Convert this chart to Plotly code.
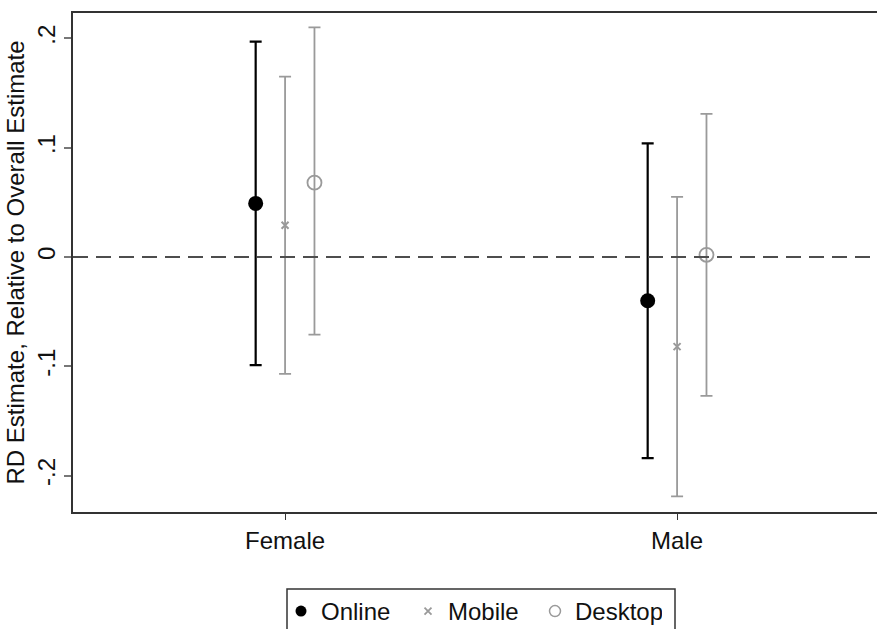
import plotly.graph_objects as go

categories = ["Female", "Male"]
series = ["Online", "Mobile", "Desktop"]

online_est = [0.049, -0.040]
online_lo = [-0.099, -0.184]
online_hi = [0.197, 0.104]

mobile_est = [0.029, -0.082]
mobile_lo = [-0.107, -0.219]
mobile_hi = [0.165, 0.055]

desktop_est = [0.068, 0.002]
desktop_lo = [-0.071, -0.127]
desktop_hi = [0.210, 0.131]

ytick_vals = [-0.2, -0.1, 0, 0.1, 0.2]
ytick_text = ["-.2", "-.1", "0", ".1", ".2"]

FONT = "Arial, Liberation Sans, sans-serif"
GRAY = "#9a9a9a"
FS = 24

data = [
    (online_est, online_lo, online_hi, -0.075, "black", dict(symbol="circle", size=15, color="black"), 2.2),
    (mobile_est, mobile_lo, mobile_hi, 0.0, GRAY, dict(symbol="x-thin", size=7, color=GRAY, line=dict(color=GRAY, width=2)), 1.8),
    (desktop_est, desktop_lo, desktop_hi, 0.075, GRAY, dict(symbol="circle-open", size=14, color=GRAY, line=dict(color=GRAY, width=1.8)), 1.8),
]

fig = go.Figure()
xpos = list(range(1, len(categories) + 1))
for name, (est, lo, hi, off, col, mk, lw) in zip(series, data):
    fig.add_trace(go.Scatter(
        x=[p + off for p in xpos], y=est, mode="markers", marker=mk,
        error_y=dict(type="data", symmetric=False,
                     array=[h - e for h, e in zip(hi, est)],
                     arrayminus=[e - l for e, l in zip(est, lo)],
                     color=col, thickness=lw, width=6),
        showlegend=False, name=name, hoverinfo="skip"))

# legend-only traces (smaller symbols as in reference)
leg_markers = [
    dict(symbol="circle", size=11, color="black"),
    dict(symbol="x-thin", size=7, color=GRAY, line=dict(color=GRAY, width=1.8)),
    dict(symbol="circle-open", size=11, color=GRAY, line=dict(color=GRAY, width=1.5)),
]
for name, mk in zip(series, leg_markers):
    fig.add_trace(go.Scatter(x=[None], y=[None], mode="markers", marker=mk, name=name))

W, H = 877, 629
L, R, T, B = 73, 0, 13, 117
pw, ph = W - L - R, H - T - B

def px_x(px):
    return (px - L) / pw

def px_y(py):
    return (H - B - py) / ph

fig.add_shape(type="line", xref="paper", yref="y", x0=0, x1=1, y0=0, y1=0,
              line=dict(color="#4d4d4d", width=2, dash="15px,8px"))
fig.add_shape(type="rect", xref="paper", yref="paper",
              x0=px_x(287), x1=px_x(675), y0=px_y(589), y1=px_y(650),
              line=dict(color="#333333", width=1.5))

fig.update_layout(
    width=W, height=H,
    margin=dict(l=L, r=R, t=T, b=B, autoexpand=False),
    paper_bgcolor="white", plot_bgcolor="white",
    font=dict(family=FONT, size=FS, color="#111111"),
    legend=dict(orientation="h", x=px_x(281), y=px_y(589), xanchor="left", yanchor="top",
                font=dict(size=FS, family=FONT, color="#111111"),
                bgcolor="rgba(0,0,0,0)", borderwidth=0, entrywidth=82, entrywidthmode="pixels",
                itemwidth=30, tracegroupgap=0),
    xaxis=dict(range=[0.459, 2.51], tickvals=xpos, ticktext=categories,
               showgrid=False, zeroline=False, showline=True, linecolor="#333333", linewidth=1.5,
               mirror=True, ticks="outside", ticklen=6, tickcolor="#333333", tickwidth=1.2,
               tickfont=dict(size=FS)),
    yaxis=dict(range=[-0.2333, 0.2232], tickvals=ytick_vals, ticktext=ytick_text,
               tickangle=-90, showgrid=False, zeroline=False, showline=True,
               linecolor="#333333", linewidth=1.5, ticks="outside", ticklen=7,
               tickcolor="#777777", tickwidth=1.5, tickfont=dict(size=FS),
               title=dict(text="RD Estimate, Relative to Overall Estimate", font=dict(size=FS), standoff=1)),
)

fig.write_html("out.html", config={"displayModeBar": False},
               post_script="document.body.style.margin='0';")
